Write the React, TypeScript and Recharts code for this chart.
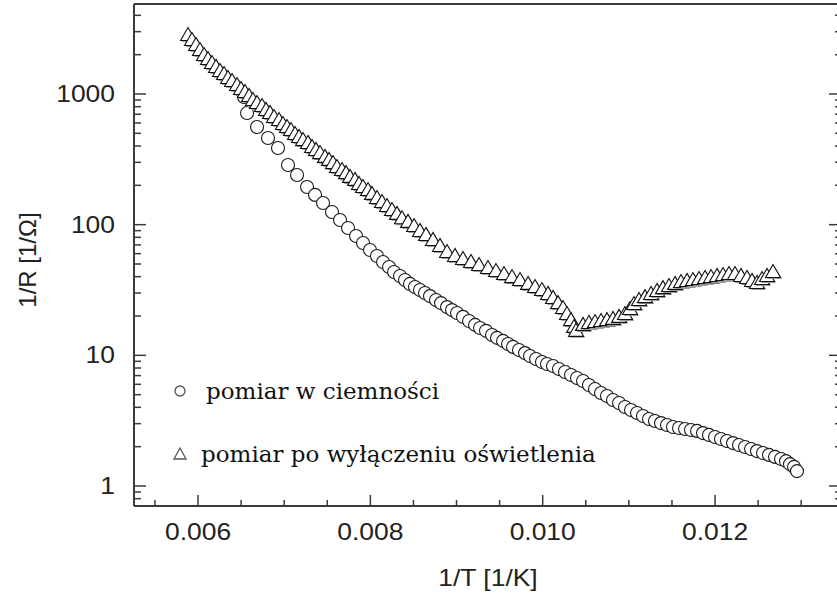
import React from 'react';
import { ScatterChart, Scatter, XAxis, YAxis, Legend } from 'recharts';

// dark measurement (circles)
const darkX = [
  0.006534, 0.006569, 0.006685, 0.006812, 0.006928, 0.007044, 0.007149, 0.007265, 0.007358, 0.007451,
  0.007555, 0.007648, 0.007741, 0.007834, 0.007915, 0.007996, 0.008077, 0.008147, 0.008217, 0.008275,
  0.008344, 0.008402, 0.00846, 0.008518, 0.008576, 0.008634, 0.008692, 0.008762, 0.00882, 0.00889,
  0.008948, 0.009006, 0.009075, 0.009145, 0.009215, 0.009273, 0.009342, 0.009412, 0.00947, 0.00954,
  0.009598, 0.009656, 0.009725, 0.009795, 0.009853, 0.009923, 0.009992, 0.01005, 0.01012, 0.010189,
  0.010259, 0.010329, 0.010398, 0.010468, 0.010537, 0.010607, 0.010677, 0.010746, 0.010816, 0.010886,
  0.010955, 0.011025, 0.011095, 0.011164, 0.011234, 0.011303, 0.011373, 0.011443, 0.011512, 0.011582,
  0.011652, 0.011721, 0.011791, 0.01186, 0.01193, 0.012, 0.012069, 0.012139, 0.012209, 0.012278,
  0.012348, 0.012418, 0.012487, 0.012557, 0.012626, 0.012696, 0.012766, 0.012824, 0.01287, 0.012917,
  0.012951,
];
const darkY = [
  948, 716, 559, 460, 386, 286, 240, 194, 169, 146.5,
  125, 108.6, 94.3, 81.9, 72.4, 64, 57.6, 51.8, 47.4, 43.4,
  40.5, 37.7, 35.2, 33.3, 31.6, 30, 28.4, 26.5, 25.1, 23.4,
  22.2, 21.1, 19.7, 18.3, 17.1, 16.2, 15.4, 14.3, 13.6, 12.9,
  12.2, 11.6, 11, 10.4, 9.89, 9.38, 8.89, 8.58, 8.28, 7.86,
  7.45, 7.07, 6.71, 6.36, 5.93, 5.52, 5.15, 4.89, 4.55, 4.32,
  4.02, 3.82, 3.62, 3.43, 3.26, 3.14, 3.03, 2.93, 2.83, 2.78,
  2.73, 2.68, 2.64, 2.54, 2.46, 2.37, 2.29, 2.21, 2.13, 2.06,
  1.99, 1.92, 1.85, 1.79, 1.73, 1.67, 1.61, 1.55, 1.47, 1.4,
  1.3,
];

// after switching off the illumination (triangles)
const lightX = [
  0.005884, 0.00593, 0.005977, 0.006023, 0.00607, 0.006116, 0.006162, 0.006209, 0.006255, 0.006302,
  0.006348, 0.006395, 0.006453, 0.006499, 0.006545, 0.006592, 0.006638, 0.006685, 0.006743, 0.006789,
  0.006836, 0.006882, 0.00694, 0.006986, 0.007033, 0.007079, 0.007126, 0.007172, 0.007219, 0.007277,
  0.007323, 0.007369, 0.007416, 0.007474, 0.00752, 0.007567, 0.007613, 0.007671, 0.007718, 0.007764,
  0.007822, 0.007868, 0.007915, 0.007973, 0.008019, 0.008077, 0.008135, 0.008193, 0.008251, 0.008309,
  0.008367, 0.008437, 0.008507, 0.008576, 0.008646, 0.008727, 0.008808, 0.00889, 0.008982, 0.009075,
  0.009168, 0.009261, 0.009365, 0.009458, 0.009551, 0.009644, 0.009737, 0.00983, 0.009911, 0.009992,
  0.010062, 0.01012, 0.010178, 0.010236, 0.010282, 0.010329, 0.010364, 0.010387, 0.010468, 0.010537,
  0.010607, 0.010677, 0.010746, 0.010816, 0.010886, 0.010955, 0.011013, 0.01106, 0.011118, 0.011187,
  0.011257, 0.011327, 0.011396, 0.011466, 0.011536, 0.011605, 0.011675, 0.011744, 0.011814, 0.011884,
  0.011953, 0.012023, 0.012093, 0.012162, 0.012232, 0.012301, 0.012371, 0.012429, 0.012487, 0.012545,
  0.012603, 0.012673,
];
const lightY = [
  2829, 2590, 2371, 2171, 1987, 1853, 1726, 1610, 1500, 1422,
  1325, 1257, 1172, 1092, 1036, 966, 899, 853, 809, 755,
  716, 667, 632, 589, 559, 530, 494, 469, 444, 422,
  393, 373, 353, 330, 313, 296, 276, 262, 248, 232,
  220, 205, 194, 184, 172, 160, 149, 139, 129.5, 121,
  112, 105, 97.7, 89.5, 83.4, 76.4, 68.7, 61.8, 57.6, 54.6,
  51.8, 49.1, 46.6, 44.2, 41.9, 39.7, 37.7, 35.2, 33.3, 31.6,
  29.5, 27.5, 25.1, 23, 20.7, 18.6, 16.5, 15.4, 17.1, 17.7,
  18, 18.3, 18.6, 19, 19.7, 20.7, 22.6, 24.7, 26.5, 27.9,
  29.5, 31.1, 32.7, 33.9, 35.2, 36.4, 37.1, 37.7, 38.4, 39.1,
  39.7, 40.5, 41.2, 41.9, 41.9, 40.5, 39.1, 37.1, 35.8, 38.4,
  40.5, 43.4,
];

const xTicks = [
  0.0055, 0.006, 0.0065, 0.007, 0.0075, 0.008, 0.0085, 0.009, 0.0095,
  0.01, 0.0105, 0.011, 0.0115, 0.012, 0.0125, 0.013,
];
const xLabels = [0.006, 0.008, 0.01, 0.012];
const yTicks = [
  0.8, 0.9, 1, 2, 3, 4, 5, 6, 7, 8, 9, 10, 20, 30, 40, 50, 60, 70, 80, 90,
  100, 200, 300, 400, 500, 600, 700, 800, 900, 1000, 2000, 3000, 4000,
];
const yLabels = [1, 10, 100, 1000];

const seriesNames = ['pomiar w ciemności', 'pomiar po wyłączeniu oświetlenia'];

const darkData = darkX.map((x, i) => ({ x, y: darkY[i] }));
const lightData = lightX.map((x, i) => ({ x, y: lightY[i] }));

const AXIS = '#3a3a3a';
const INK = '#222';
const sans = '"Liberation Sans", Arial, Helvetica, sans-serif';

const isIn = (list: number[], v: number) => list.some((l) => Math.abs(l - v) < 1e-9);

const BottomTick = (props: any) => {
  const { x, y, payload } = props;
  const major = isIn(xLabels, payload.value);
  return (
    <g>
      <line x1={x} x2={x} y1={y} y2={y - (major ? 11 : 6)} stroke={AXIS} strokeWidth={1.5} />
      {major && (
        <text transform={`translate(${x},${y + 34}) scale(1.15,1)`} textAnchor="middle"
          fontFamily={sans} fontSize={23} fill={INK}>
          {payload.value.toFixed(3)}
        </text>
      )}
    </g>
  );
};

const TopTick = (props: any) => {
  const { x, y, payload } = props;
  const major = isIn(xLabels, payload.value);
  return <line x1={x} x2={x} y1={y} y2={y + (major ? 12 : 7)} stroke={AXIS} strokeWidth={1.5} />;
};

const LeftTick = (props: any) => {
  const { x, y, payload } = props;
  const major = isIn(yLabels, payload.value);
  return (
    <g>
      <line x1={x} x2={x + (major ? 12 : 7)} y1={y} y2={y} stroke={AXIS} strokeWidth={1.5} />
      {major && (
        <text transform={`translate(${x - 19},${y + 8}) scale(1.15,1)`} textAnchor="end"
          fontFamily={sans} fontSize={23} fill={INK}>
          {payload.value}
        </text>
      )}
    </g>
  );
};

const RightTick = (props: any) => {
  const { x, y, payload } = props;
  const major = isIn(yLabels, payload.value);
  return <line x1={x} x2={x - (major ? 9 : 3)} y1={y} y2={y} stroke={AXIS} strokeWidth={1.5} />;
};

const Circle = (props: any) => {
  const { cx, cy } = props;
  return <circle cx={cx} cy={cy} r={6.5} fill="#fff" stroke="#1a1a1a" strokeWidth={1.1} />;
};

const Triangle = (props: any) => {
  const { cx, cy } = props;
  const pts = (dx: number, dy: number) =>
    `${cx + dx},${cy - 7.5 + dy} ${cx - 7.5 + dx},${cy + 5.5 + dy} ${cx + 7.5 + dx},${cy + 5.5 + dy}`;
  return (
    <g>
      <polygon points={pts(1.5, 1.5)} fill="#9a9a9a" />
      <polygon points={pts(0, 0)} fill="#fff" stroke="#111" strokeWidth={1.1} />
    </g>
  );
};

const LegendContent = () => (
  <div style={{ fontFamily: '"DejaVu Serif", serif', fontSize: 23, color: '#111', lineHeight: '30px' }}>
    <div style={{ display: 'flex', alignItems: 'center', height: 30, marginBottom: 33 }}>
      <svg width={16} height={16} style={{ marginRight: 18 }}>
        <circle cx={8} cy={8} r={5} fill="#fff" stroke="#555" strokeWidth={1.3} />
      </svg>
      <span>{seriesNames[0]}</span>
    </div>
    <div style={{ display: 'flex', alignItems: 'center', height: 30 }}>
      <svg width={16} height={16} style={{ marginRight: 13 }}>
        <polygon points="8,2 2,13 14,13" fill="#fff" stroke="#555" strokeWidth={1.3} />
      </svg>
      <span>{seriesNames[1]}</span>
    </div>
  </div>
);

export default function App() {
  return (
    <div style={{ position: 'absolute', left: 0, top: 0, width: 837, height: 599, overflow: 'hidden', background: '#fff' }}>
      <ScatterChart width={845} height={599} margin={{ top: 2, right: 5, bottom: 33, left: 74 }}>
        <XAxis
          xAxisId="b"
          dataKey="x"
          type="number"
          domain={[0.005257, 0.013427]}
          allowDataOverflow
          ticks={xTicks}
          interval={0}
          height={60}
          tickSize={0}
          tickMargin={0}
          tickLine={false}
          tick={<BottomTick />}
          axisLine={{ stroke: AXIS, strokeWidth: 2 }}
          label={{
            content: (p: any) => {
              const vb = p.viewBox;
              return (
                <text transform={`translate(${vb.x + vb.width / 2 + 2},${vb.y + 80}) scale(1.15,1)`}
                  textAnchor="middle" fontFamily={sans} fontSize={23} fill={INK}>
                  1/T [1/K]
                </text>
              );
            },
          }}
        />
        <XAxis
          xAxisId="t"
          orientation="top"
          type="number"
          domain={[0.005257, 0.013427]}
          allowDataOverflow
          ticks={xTicks}
          interval={0}
          height={2}
          tickSize={0}
          tickMargin={0}
          tickLine={false}
          tick={<TopTick />}
          axisLine={{ stroke: AXIS, strokeWidth: 2 }}
        />
        <YAxis
          yAxisId="l"
          dataKey="y"
          type="number"
          scale="log"
          domain={[0.703, 4884]}
          allowDataOverflow
          ticks={yTicks}
          interval={0}
          width={60}
          tickSize={0}
          tickMargin={0}
          tickLine={false}
          tick={<LeftTick />}
          axisLine={{ stroke: AXIS, strokeWidth: 2 }}
          label={{
            content: (p: any) => {
              const vb = p.viewBox;
              const cy = vb.y + vb.height / 2 + 5;
              return (
                <text transform={`translate(${vb.x - 38},${cy}) rotate(-90)`} textAnchor="middle"
                  fontFamily={sans} fontSize={24} fill={INK}>
                  1/R [1/Ω]
                </text>
              );
            },
          }}
        />
        <YAxis
          yAxisId="r"
          orientation="right"
          type="number"
          scale="log"
          domain={[0.703, 4884]}
          allowDataOverflow
          ticks={yTicks}
          interval={0}
          width={2}
          tickSize={0}
          tickMargin={0}
          tickLine={false}
          tick={<RightTick />}
          axisLine={{ stroke: AXIS, strokeWidth: 2 }}
        />
        <Legend
          layout="horizontal"
          verticalAlign="middle"
          align="center"
          content={<LegendContent />}
          wrapperStyle={{ position: 'absolute', left: 172, top: 376, width: 520 }}
        />
        <Scatter name={seriesNames[0]} data={darkData} xAxisId="b" yAxisId="l" shape={<Circle />} isAnimationActive={false} />
        <Scatter name={seriesNames[1]} data={lightData} xAxisId="b" yAxisId="l" shape={<Triangle />} isAnimationActive={false} />
      </ScatterChart>
    </div>
  );
}
